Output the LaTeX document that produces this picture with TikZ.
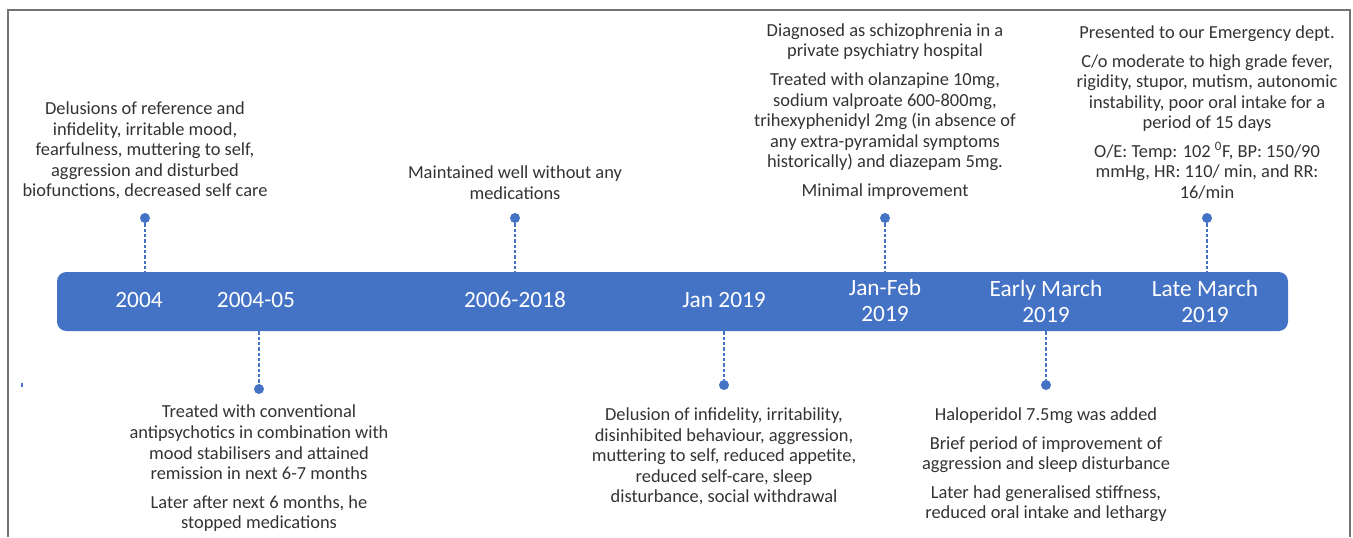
\documentclass[tikz,border=0pt]{standalone}
\usepackage{fontspec}
\setmainfont{Carlito}
\usepackage{tikz}
\usetikzlibrary{
  positioning,  % Function "of" (e.g. [above=of x])
  calc
}
\definecolor{tlblue}{HTML}{4472C4}
\def\mytopgap{10pt}
\def\mygap{13pt}
\def\mypar{6pt}
\tikzset{
  font=\fontsize{13.8}{15.4}\selectfont,
  my frame/.style={draw=black!55, line width=0.9pt},
  my bar/.style={
    fill=tlblue,
    rounded corners=7pt,
    minimum width=923.25pt,
    minimum height=44.25pt,
    inner sep=0pt
  },
  my label/.style={
    align=center,
    text=white,
    inner sep=0pt,
    font=\fontsize{17.5}{19.5}\selectfont
  },
  my dot/.style={
    circle,
    fill=tlblue,
    inner sep=0pt,
    minimum size=7.5pt
  },
  my note/.style={
    align=center,
    inner sep=0pt,
    text=black!80
  },
  my link/.style={
    draw=tlblue,
    line width=0.8pt,
    dash pattern=on 2.5pt off 1.5pt
  }
}
\begin{document}
\begin{tikzpicture}[x=0.75pt,y=-0.75pt]
\useasboundingbox (0,0) rectangle (1353,537);
\draw[my frame] (8,537) -- (8,10) -- (1350,10) -- (1350,537);
% the time bar
\node[my bar] (bar) at (672.5,301.5) {};
\node[my label] (y2004)   at (139,300) {2004};
\node[my label] (y200405) at (256,300) {2004-05};
\node[my label] (y0618)   at (515,300) {2006-2018};
\node[my label] (jan19)   at (724,300) {Jan 2019};
\node[my label] (janfeb)  at (885,300) {Jan-Feb\\2019};
\node[my label] (earlym)  at (1046,301) {Early March\\2019};
\node[my label] (latem)   at (1205,301) {Late March\\2019};
% events above the bar
\node[my dot] (d2004) at (145,218) {};
\node[my note, above=\mytopgap of d2004] (n2004)
  {Delusions of reference and\\infidelity, irritable mood,\\fearfulness, muttering to self,\\aggression and disturbed\\biofunctions, decreased self care};
\node[my dot] (d0618) at (515,218) {};
\node[my note, above=\mytopgap of d0618] (n0618)
  {Maintained well without any\\medications};
\node[my dot] (djanfeb) at (885,218) {};
\node[my note, above=\mytopgap of djanfeb] (njanfeb)
  {Diagnosed as schizophrenia in a\\private psychiatry hospital\\[\mypar]
   Treated with olanzapine 10mg,\\sodium valproate 600-800mg,\\trihexyphenidyl 2mg (in absence of\\any extra-pyramidal symptoms\\historically) and diazepam 5mg.\\[\mypar]
   Minimal improvement};
\node[my dot] (dlatem) at (1207,218) {};
\node[my note, above=\mytopgap of dlatem] (nlatem)
  {Presented to our Emergency dept.\\[\mypar]
   C/o moderate to high grade fever,\\rigidity, stupor, mutism, autonomic\\instability, poor oral intake for a\\period of 15 days\\[\mypar]
   O/E: Temp: 102 \textsuperscript{0}F, BP: 150/90\\mmHg, HR: 110/ min, and RR:\\16/min};
% events below the bar
\node[my dot] (d200405) at (259,389) {};
\node[my note, below=8pt of d200405] (n200405)
  {Treated with conventional\\antipsychotics in combination with\\mood stabilisers and attained\\remission in next 6-7 months\\[\mypar]
   Later after next 6 months, he\\stopped medications};
\node[my dot] (djan19) at (724,385) {};
\node[my note, below=\mygap of djan19] (njan19)
  {Delusion of infidelity, irritability,\\disinhibited behaviour, aggression,\\muttering to self, reduced appetite,\\reduced self-care, sleep\\disturbance, social withdrawal};
\node[my dot] (dearlym) at (1046,385) {};
\node[my note, below=\mygap of dearlym] (nearlym)
  {Haloperidol 7.5mg was added\\[\mypar]
   Brief period of improvement of\\aggression and sleep disturbance\\[\mypar]
   Later had generalised stiffness,\\reduced oral intake and lethargy};
% dashed links
\foreach \d in {d2004,d0618,djanfeb,dlatem}
  \draw[my link] (\d) -- (\d |- bar.north);
\foreach \d in {d200405,djan19,dearlym}
  \draw[my link] (bar.south -| \d) -- (\d);
\draw[tlblue, line width=0.8pt] (22,383) -- (22,387);
\end{tikzpicture}
\end{document}
